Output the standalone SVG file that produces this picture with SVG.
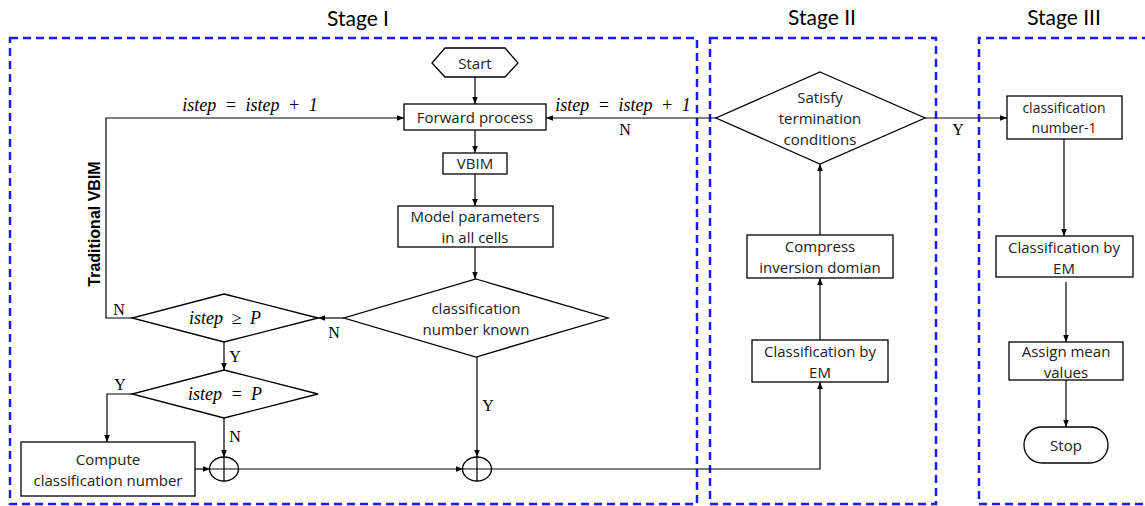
<svg xmlns="http://www.w3.org/2000/svg" width="1145" height="506" viewBox="0 0 1145 506">
<style>
.stage{fill:none;stroke:#1a1aff;stroke-width:2.5;stroke-dasharray:8 5}
.title{font-family:Lato,"Open Sans",sans-serif;font-weight:400;font-size:21px;fill:#000;text-anchor:middle}
.box{fill:#fff;stroke:#000;stroke-width:1.3}
.t{font-family:"Open Sans","Noto Sans",sans-serif;font-size:15px;fill:#222;text-anchor:middle}
.m{font-family:"Liberation Serif",serif;font-style:italic;font-size:18px;word-spacing:4px;fill:#000;text-anchor:middle}
.yn{font-family:"Liberation Serif",serif;font-size:16px;fill:#000;text-anchor:middle}
.c{fill:none;stroke:#000;stroke-width:1.2}
</style>
<defs>
<marker id="a" viewBox="0 0 10 10" refX="10" refY="5" markerWidth="7" markerHeight="7" orient="auto" markerUnits="userSpaceOnUse"><path d="M0,1 L10,5 L0,9 z" fill="#000"/></marker>
</defs>
<g id="stages">
<rect class="stage" x="10" y="38" width="687" height="466"/>
<rect class="stage" x="710" y="38" width="226" height="466"/>
<path class="stage" d="M1150,38 H979 V504 H1150"/>
<text class="title" x="358" y="26">Stage I</text>
<text class="title" x="822" y="25">Stage II</text>
<text class="title" x="1064" y="25">Stage III</text>
</g>
<g id="connectors">
<path class="c" d="M475,77 V104" marker-end="url(#a)"/>
<path class="c" d="M475,130 V153" marker-end="url(#a)"/>
<path class="c" d="M475,174 V206" marker-end="url(#a)"/>
<path class="c" d="M475,247 V279" marker-end="url(#a)"/>
<path class="c" d="M344,318 H318" marker-end="url(#a)"/>
<path class="c" d="M132,318 H106 V118 H404" marker-end="url(#a)"/>
<path class="c" d="M224,342 V370" marker-end="url(#a)"/>
<path class="c" d="M132,394 H107 V442" marker-end="url(#a)"/>
<path class="c" d="M224,418 V457" marker-end="url(#a)"/>
<path class="c" d="M195,469 H210" marker-end="url(#a)"/>
<path class="c" d="M239,469 H463" marker-end="url(#a)"/>
<path class="c" d="M477,357 V457" marker-end="url(#a)"/>
<path class="c" d="M491,469 H820 V382" marker-end="url(#a)"/>
<path class="c" d="M820,340 V278" marker-end="url(#a)"/>
<path class="c" d="M820,235 V164" marker-end="url(#a)"/>
<path class="c" d="M716,118 H546" marker-end="url(#a)"/>
<path class="c" d="M925,118 H1007" marker-end="url(#a)"/>
<path class="c" d="M1064,139 V236" marker-end="url(#a)"/>
<path class="c" d="M1066,282 V342" marker-end="url(#a)"/>
<path class="c" d="M1066,380 V427" marker-end="url(#a)"/>
<text class="m" x="250" y="111">istep = istep + 1</text>
<text class="m" x="623" y="111">istep = istep + 1</text>
<text class="yn" x="625" y="135">N</text>
<text class="yn" x="958" y="135">Y</text>
<text class="yn" x="119" y="315">N</text>
<text class="yn" x="334" y="338">N</text>
<text class="yn" x="235" y="362">Y</text>
<text class="yn" x="120" y="390">Y</text>
<text class="yn" x="235" y="442">N</text>
<text class="yn" x="488" y="411">Y</text>
<text x="100" y="224" transform="rotate(-90 100 224)" style="font-family:'Liberation Sans',Arial,sans-serif;font-weight:bold;font-size:16px;text-anchor:middle">Traditional VBIM</text>
</g>
<g id="start"><path class="box" d="M432,63 L445,48 H505 L518,63 L505,77 H445 Z"/><text class="t" x="475" y="69">Start</text></g>
<g id="forward"><rect class="box" x="404" y="104" width="142" height="26"/><text class="t" x="475" y="123">Forward process</text></g>
<g id="vbim"><rect class="box" x="443" y="153" width="64" height="21"/><text class="t" x="475" y="169">VBIM</text></g>
<g id="model"><rect class="box" x="398" y="206" width="155" height="41"/><text class="t" x="475" y="222">Model parameters</text><text class="t" x="475" y="243">in all cells</text></g>
<g id="known"><path class="box" d="M476,279 L608,318 L476,357 L344,318 Z"/><text class="t" x="476" y="314">classification</text><text class="t" x="476" y="335">number known</text></g>
<g id="geP"><path class="box" d="M224,294 L318,318 L224,342 L132,318 Z"/><text class="m" x="225" y="324">istep ≥ P</text></g>
<g id="eqP"><path class="box" d="M224,370 L318,394 L224,418 L132,394 Z"/><text class="m" x="225" y="400">istep = P</text></g>
<g id="compute"><rect class="box" x="21" y="442" width="174" height="54"/><text class="t" x="108" y="465">Compute</text><text class="t" x="108" y="486">classification number</text></g>
<g id="sum1"><ellipse class="box" cx="224" cy="469" rx="14.5" ry="12"/><path class="c" d="M209.5,469 H238.5 M224,457 V481"/></g>
<g id="sum2"><ellipse class="box" cx="477" cy="469" rx="14.5" ry="12"/><path class="c" d="M462.5,469 H491.5 M477,457 V481"/></g>
<g id="em2"><rect class="box" x="752" y="340" width="136" height="42"/><text class="t" x="820" y="357">Classification by</text><text class="t" x="820" y="378">EM</text></g>
<g id="compress"><rect class="box" x="747" y="235" width="146" height="43"/><text class="t" x="820" y="252">Compress</text><text class="t" x="820" y="273">inversion domian</text></g>
<g id="satisfy"><path class="box" d="M820,72 L925,118 L820,164 L716,118 Z"/><text class="t" x="820" y="103">Satisfy</text><text class="t" x="820" y="124">termination</text><text class="t" x="820" y="145">conditions</text></g>
<g id="cn1"><rect class="box" x="1007" y="96" width="115" height="43"/><text class="t" x="1064" y="113" style="font-size:14px">classification</text><text class="t" x="1064" y="133" style="font-size:14px">number-1</text></g>
<g id="em3"><rect class="box" x="996" y="236" width="137" height="41"/><text class="t" x="1064" y="253">Classification by</text><text class="t" x="1064" y="274">EM</text></g>
<g id="assign"><rect class="box" x="1009" y="342" width="114" height="38"/><text class="t" x="1066" y="357">Assign mean</text><text class="t" x="1066" y="378">values</text></g>
<g id="stop"><rect class="box" x="1024" y="427" width="84" height="36" rx="18" ry="18"/><text class="t" x="1066" y="451">Stop</text></g>
</svg>
